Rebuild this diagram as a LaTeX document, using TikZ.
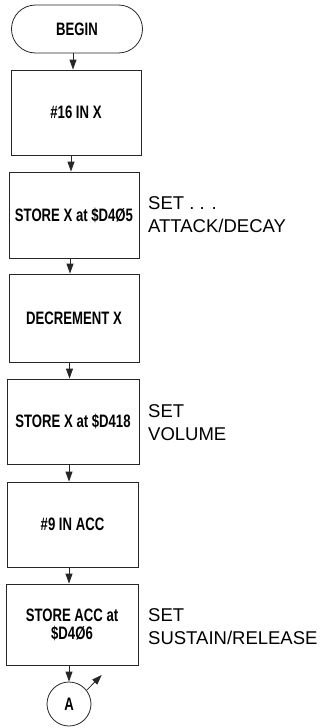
\documentclass[tikz,border=0pt]{standalone}
\usepackage{fontspec}
\usetikzlibrary{arrows.meta}
\newfontfamily\bxfont[FakeStretch=0.73]{Liberation Sans}
\newfontfamily\sidefont{Liberation Sans}
\begin{document}
\begin{tikzpicture}[x=1pt,y=-1pt,
  line/.style={draw=black!85, line width=0.8pt},
  procbox/.style={line, inner sep=0pt, align=center,
    font=\bxfont\bfseries\fontsize{18}{18}\selectfont},
  termbox/.style={procbox, rounded corners=24pt, minimum width=131pt, minimum height=48pt},
  connbox/.style={procbox, circle, minimum size=44pt},
  sidetext/.style={anchor=north west, inner sep=0pt, align=left,
    font=\sidefont\fontsize{18.5}{23}\selectfont},
  arr/.style={line, -{Triangle[length=10pt,width=7pt]}}]
\useasboundingbox (0,0) rectangle (320,728);
\node[termbox] (begin) at (77,29) {BEGIN};
\node[procbox, minimum width=130pt, minimum height=85pt] (b1) at (76,112.5) {\#16 IN X};
\node[procbox, minimum width=130pt, minimum height=86pt] (b2) at (74,215) {STORE X at \$D4Ø5};
\node[procbox, minimum width=130pt, minimum height=88pt] (b3) at (74,318) {DECREMENT X};
\node[procbox, minimum width=132pt, minimum height=85pt] (b4) at (73,421.5) {STORE X at \$D418};
\node[procbox, minimum width=131pt, minimum height=85pt] (b5) at (72.5,524.5) {\#9 IN ACC};
\node[procbox, minimum width=132pt, minimum height=81pt] (b6) at (72,624.5) {STORE ACC at\\\$D4Ø6};
\node[connbox] (A) at (69,704) {A};
\coordinate (tipA) at (101.7,675);
\node[sidetext] (s2) at (148,196) {SET . . .\\ATTACK/DECAY};
\node[sidetext] (s4) at (148,404) {SET\\VOLUME};
\node[sidetext] (s6) at (148,608) {SET\\SUSTAIN/RELEASE};
\draw[arr] (begin.south -| 73,0) -- (b1.north -| 73,0);
\draw[arr] (b1.south -| 71,0) -- (b2.north -| 71,0);
\draw[arr] (b2.south -| 70,0) -- (b3.north -| 70,0);
\draw[arr] (b3.south -| 69.5,0) -- (b4.north -| 69.5,0);
\draw[arr] (b4.south -| 69,0) -- (b5.north -| 69,0);
\draw[arr] (b5.south -| 69,0) -- (b6.north -| 69,0);
\draw[arr] (b6.south -| 69,0) -- (A.north);
\draw[arr] (A.38) -- (tipA);
\end{tikzpicture}
\end{document}
